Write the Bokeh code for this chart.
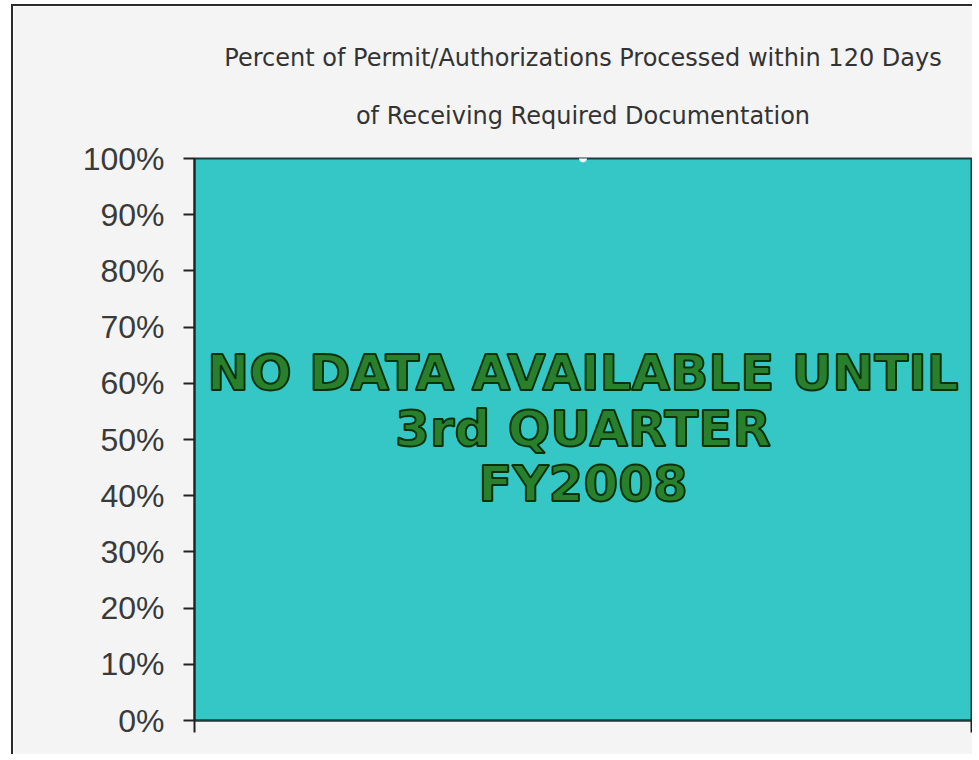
from bokeh.plotting import figure
from bokeh.models import Range1d, FixedTicker, Title, ColumnDataSource
from bokeh.core.properties import value
from bokeh.embed import file_html
from bokeh.resources import INLINE

# ---- data ----
title_lines = ["Percent of Permit/Authorizations Processed within 120 Days",
               "of Receiving Required Documentation"]
y_ticks = [0.0, 0.1, 0.2, 0.3, 0.4, 0.5, 0.6, 0.7, 0.8, 0.9, 1.0]
y_tick_labels = ["0%", "10%", "20%", "30%", "40%", "50%", "60%", "70%", "80%", "90%", "100%"]
point_x = [0.5]
point_y = [1.0]
message_lines = ["NO DATA AVAILABLE UNTIL", "3rd QUARTER", "FY2008"]

W, H = 961, 750
p = figure(width=W, height=H, output_backend="svg", toolbar_location=None,
           x_range=Range1d(0, 1), y_range=Range1d(0, 1),
           min_border_left=181, min_border_right=3, min_border_top=152, min_border_bottom=36,
           background_fill_color="#35c6c6", border_fill_color="#f4f4f4",
           styles={"border-left": "2px solid #2b2b2b", "border-top": "2px solid #2b2b2b",
                   "margin-left": "11px", "margin-top": "4px"})

# two title lines, each centred; the one added first sits closest to the frame
p.title = None
p.add_layout(Title(text=title_lines[1], align="center",
                   text_font="DejaVu Sans", text_font_size="24px",
                   text_font_style="normal", text_color="#333333", standoff=57), "above")
p.add_layout(Title(text=title_lines[0], align="center",
                   text_font="DejaVu Sans", text_font_size="24px",
                   text_font_style="normal", text_color="#333333", standoff=0), "above")

p.grid.visible = False
p.outline_line_color = "#1e3b3b"
p.outline_line_width = 2

# y axis
p.yaxis.ticker = FixedTicker(ticks=y_ticks)
p.yaxis.major_label_overrides = {t: l for t, l in zip(y_ticks, y_tick_labels)}
p.yaxis.major_label_text_font = "Liberation Sans"
p.yaxis.major_label_text_font_size = "32px"
p.yaxis.major_label_text_color = "#3a3a3a"
p.yaxis.major_label_standoff = 19
p.yaxis.major_tick_out = 11
p.yaxis.major_tick_in = 0
p.yaxis.minor_tick_line_color = None
p.yaxis.axis_line_color = "#222222"
p.yaxis.axis_line_width = 2
p.yaxis.major_tick_line_color = "#222222"
p.yaxis.major_tick_line_width = 2

# x axis: only boundary ticks, no labels
p.xaxis.ticker = FixedTicker(ticks=[0, 1])
p.xaxis.major_label_overrides = {0: "", 1: ""}
p.xaxis.major_tick_out = 12
p.xaxis.major_tick_in = 0
p.xaxis.minor_tick_line_color = None
p.xaxis.axis_line_color = "#1e3b3b"
p.xaxis.axis_line_width = 2
p.xaxis.major_tick_line_color = "#222222"
p.xaxis.major_tick_line_width = 2

# data point marker
p.scatter(point_x, point_y, size=7, fill_color="white", line_color="#d8f4ff")

# message text
msg_y = [0.619, 0.518, 0.42]
src = ColumnDataSource(dict(x=[0.5] * 3, y=msg_y, t=message_lines))
p.text(x="x", y="y", text="t", source=src, text_align="center", text_baseline="middle",
       text_font=value("DejaVu Sans"), text_font_style="bold", text_font_size="50px",
       text_color="#2a7f2c", text_outline_color="#0a330c")

open("out.html", "w").write(file_html(p, INLINE))
